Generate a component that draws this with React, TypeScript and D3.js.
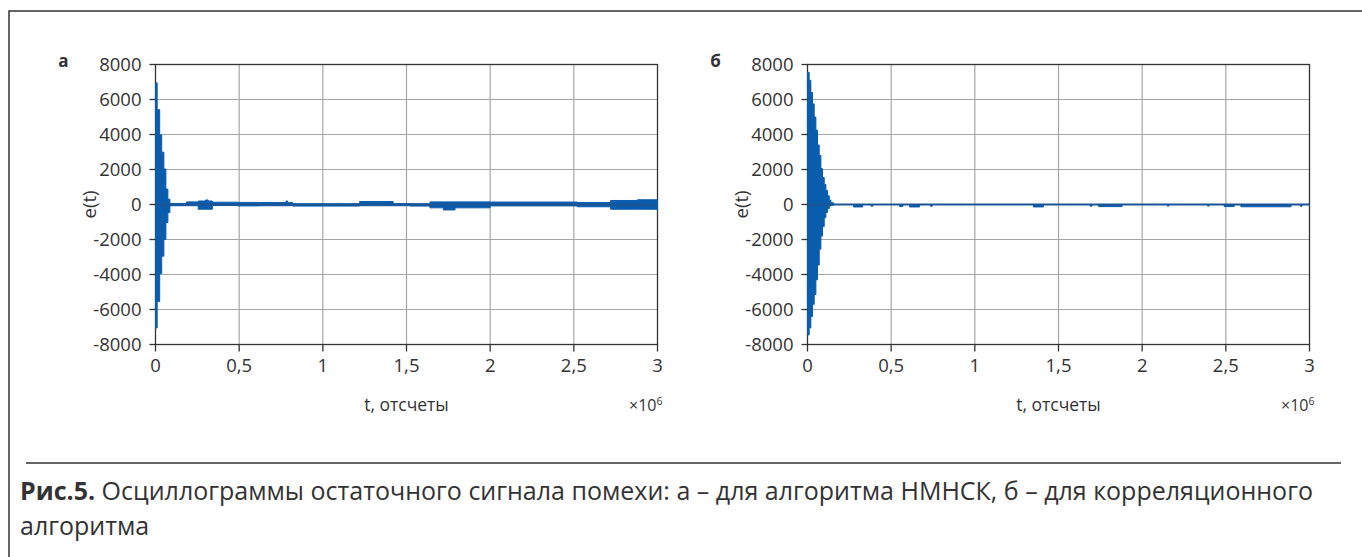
import React from "react";
import * as d3 from "d3";

// envelope of the residual signal, t in units of 1e6 samples (step-after)
const T_A = [0, 0.01, 0.025, 0.037, 0.05, 0.062, 0.074, 0.086, 0.185, 0.255, 0.3, 0.315, 0.34, 0.49, 0.62, 0.78, 0.79, 0.82, 1.22, 1.42, 1.52, 1.64, 1.72, 1.79, 2.0, 2.52, 2.72, 2.88, 3.0];
const HI_A = [6950, 5420, 3980, 2990, 2030, 880, 300, 60, 150, 200, 260, 200, 130, 120, 110, 200, 110, 40, 170, 50, 40, 150, 150, 150, 140, 110, 230, 270, 270];
const LO_A = [-7050, -5540, -3950, -2950, -2000, -1030, -460, -70, -70, -270, -270, -270, -60, -80, -70, -70, -70, -90, -70, -70, -90, -190, -310, -190, -80, -130, -270, -270, -270];

const T_B = [0, 0.01, 0.02, 0.03, 0.04, 0.05, 0.06, 0.07, 0.08, 0.09, 0.1, 0.11, 0.12, 0.13, 0.14, 0.155, 0.275, 0.33, 0.38, 0.39, 0.55, 0.57, 0.61, 0.67, 0.735, 0.745, 1.35, 1.41, 1.69, 1.7, 1.74, 1.88, 2.15, 2.16, 2.39, 2.4, 2.49, 2.55, 2.59, 2.89, 2.945, 2.955, 3.0];
const HI_B = [7550, 7100, 6400, 5750, 5000, 4250, 3400, 2800, 2050, 1550, 1150, 800, 500, 250, 100, 0, 0, 0, 0, 0, 0, 0, 0, 0, 0, 0, 0, 0, 0, 0, 0, 0, 0, 0, 0, 0, 0, 0, 0, 0, 0, 0, 0];
const LO_B = [-7450, -7050, -6400, -5700, -5150, -4300, -3450, -2550, -1800, -1250, -750, -450, -230, -80, -40, 0, -140, 0, -100, 0, -120, 0, -140, 0, -100, 0, -140, 0, -100, 0, -120, 0, -90, 0, -90, 0, -120, 0, -130, 0, -100, 0, 0];

const Y_TICKS = [-8000, -6000, -4000, -2000, 0, 2000, 4000, 6000, 8000];
const X_TICKS = [0, 0.5, 1, 1.5, 2, 2.5, 3];
const X_TICK_LABELS = ["0", "0,5", "1", "1,5", "2", "2,5", "3"];

const FONT = "'Open Sans', sans-serif";
const INK = "#333";
const BLUE = "#0a5cad";

type PanelProps = {
  left: number;
  label: string;
  t: number[];
  hi: number[];
  lo: number[];
  lineWidth: number;
};

function Panel({ left, label, t, hi, lo, lineWidth }: PanelProps) {
  const x = d3.scaleLinear().domain([0, 3]).range([left, left + 502]);
  const y = d3.scaleLinear().domain([-8000, 8000]).range([344.5, 64.5]);

  const idx = d3.range(t.length);
  const area = d3
    .area<number>()
    .curve(d3.curveStepAfter)
    .x((i) => x(t[i]))
    .y0((i) => y(lo[i]))
    .y1((i) => y(hi[i]));
  const zero = d3
    .line<number>()
    .x((d) => x(d))
    .y(() => y(0));

  const [x0, x1] = x.range();
  const [y0, y1] = y.range();

  return (
    <g>
      {/* grid */}
      {X_TICKS.slice(1, -1).map((v) => (
        <line key={"gx" + v} x1={x(v)} x2={x(v)} y1={y1} y2={y0} stroke="#a6a6a6" strokeWidth={1.2} />
      ))}
      {Y_TICKS.slice(1, -1).map((v) => (
        <line key={"gy" + v} x1={x0} x2={x1} y1={y(v)} y2={y(v)} stroke="#a6a6a6" strokeWidth={1.2} />
      ))}
      {/* frame */}
      <rect x={x0} y={y1} width={x1 - x0} height={y0 - y1} fill="none" stroke={INK} strokeWidth={1.3} />
      {/* signal */}
      <path d={area(idx) ?? ""} fill={BLUE} stroke={BLUE} strokeWidth={1} />
      <path d={zero([0, 3]) ?? ""} fill="none" stroke="#1b5596" strokeWidth={lineWidth} />
      {/* y axis */}
      {Y_TICKS.map((v) => (
        <g key={"ty" + v}>
          <line x1={x0 - 6} x2={x0} y1={y(v)} y2={y(v)} stroke={INK} strokeWidth={1.3} />
          <text x={x0 - 14} y={y(v)} dy="0.36em" textAnchor="end" fontSize={18.5} fill={INK}>
            {v}
          </text>
        </g>
      ))}
      {/* x axis */}
      {X_TICKS.map((v, i) => (
        <g key={"tx" + v}>
          <line x1={x(v)} x2={x(v)} y1={y0} y2={y0 + 7} stroke={INK} strokeWidth={1.3} />
          <text x={x(v)} y={y0 + 27} textAnchor="middle" fontSize={18.5} fill={INK}>
            {X_TICK_LABELS[i]}
          </text>
        </g>
      ))}
      <text x={(x0 + x1) / 2} y={411} textAnchor="middle" fontSize={17.5} fill={INK}>
        t, отсчеты
      </text>
      <text x={x1 + 5} y={411} textAnchor="end" fontSize={16} fill={INK}>
        ×10<tspan fontSize={10.5} dy={-6}>6</tspan>
      </text>
      <text
        transform={`translate(${x0 - 60},${y(0)}) rotate(-90)`}
        textAnchor="middle"
        fontSize={18.5}
        fill={INK}
      >
        e(t)
      </text>
      <text x={x0 - 92} y={67} textAnchor="middle" fontSize={17} fontWeight="bold" fill={INK}>
        {label}
      </text>
    </g>
  );
}

export default function App() {
  return (
    <svg
      width={1362}
      height={557}
      style={{ position: "absolute", left: 0, top: 0, display: "block", background: "#fff" }}
      fontFamily={FONT}
    >
      <rect width={1362} height={557} fill="#fff" />
      <path d="M9,557 V11 H1362" fill="none" stroke={INK} strokeWidth={1.5} />
      <Panel left={155.5} label="а" t={T_A} hi={HI_A} lo={LO_A} lineWidth={2} />
      <Panel left={807.5} label="б" t={T_B} hi={HI_B} lo={LO_B} lineWidth={2} />
      <line x1={26} x2={1341} y1={463} y2={463} stroke={INK} strokeWidth={1.5} />
      <text x={20} y={500} fontSize={25} fill={INK}>
        <tspan fontWeight="bold">Рис.5.</tspan> Осциллограммы остаточного сигнала помехи: а – для алгоритма НМНСК, б – для корреляционного
      </text>
      <text x={20} y={535} fontSize={25} fill={INK}>
        алгоритма
      </text>
    </svg>
  );
}
